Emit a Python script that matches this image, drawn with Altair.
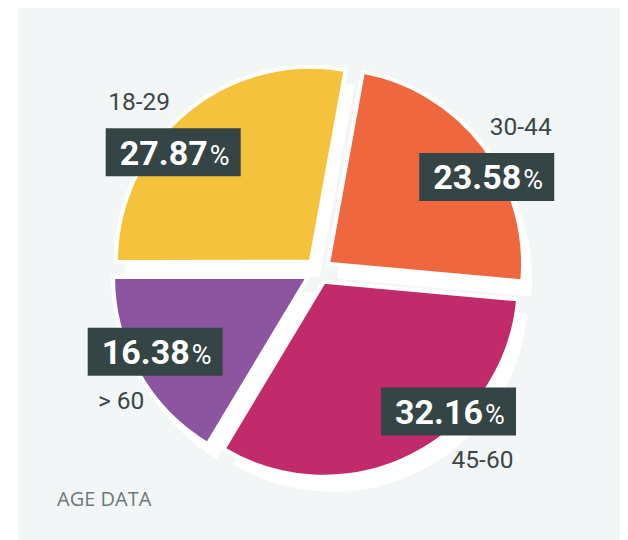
import altair as alt
import pandas as pd

# ---- data ----
CATEGORIES = ["30-44", "45-60", "> 60", "18-29"]
SHARES = [23.58, 32.16, 16.38, 27.87]
COLORS = ["#ee673e", "#c12b6b", "#8b559f", "#f4c33b"]

# ---- layout (style, not data) ----
LABEL_DX = [17, 44, 2, -23.5]
LABEL_DY = [21, -29, -13, 27]
W, H = 602, 532
CX, CY = 300.5, 263.0
R = 195
EXPLODE = 12
LABEL_R = 190
START_DEG = 10.3
SHADOW_DX, SHADOW_DY = 9, 15
FONT = "Roboto"

df = pd.DataFrame({
    "cat": CATEGORIES,
    "share": SHARES,
    "color": COLORS,
    "idx": list(range(len(CATEGORIES))),
    "ldx": LABEL_DX,
    "ldy": LABEL_DY,
})

base = (
    alt.Chart(df)
    .transform_window(cum="sum(share)", sort=[alt.SortField("idx")], frame=[None, 0])
    .transform_joinaggregate(total="sum(share)")
    .transform_calculate(
        t0=f"{START_DEG}*PI/180 + (datum.cum - datum.share)/datum.total*2*PI",
        t1=f"{START_DEG}*PI/180 + datum.cum/datum.total*2*PI",
    )
    .transform_calculate(mid="(datum.t0 + datum.t1)/2")
    .transform_calculate(
        px=f"{CX} + {EXPLODE}*sin(datum.mid)",
        py=f"{CY} - {EXPLODE}*cos(datum.mid)",
        bx=f"{CX} + {LABEL_R}*sin(datum.mid) + datum.ldx",
        by=f"{CY} - {LABEL_R}*cos(datum.mid) + datum.ldy",
    )
    .transform_calculate(
        sx=f"datum.px + {SHADOW_DX}",
        sy=f"datum.py + {SHADOW_DY}",
        bx0="datum.bx - 67.5",
        bx1="datum.bx + 67.5",
        by0="datum.by - 24",
        by1="datum.by + 24",
        nx="datum.bx + 34.5",
        px2="datum.bx + 36.5",
        ny="datum.by + 12.5",
        lx="datum.bx + (sin(datum.mid) < 0 ? -34 : 34)",
        ly="datum.by + (cos(datum.mid) > 0 ? -42 : 57)",
    )
)

shadow = base.mark_arc(radius=R, fill="white").encode(
    x=alt.X("sx:Q", scale=None),
    y=alt.Y("sy:Q", scale=None),
    theta=alt.Theta("t0:Q", scale=None),
    theta2="t1:Q",
)

slices = base.mark_arc(radius=R, stroke="white", strokeWidth=4).encode(
    x=alt.X("px:Q", scale=None),
    y=alt.Y("py:Q", scale=None),
    theta=alt.Theta("t0:Q", scale=None),
    theta2="t1:Q",
    fill=alt.Fill("color:N", scale=None),
)

boxes = base.mark_rect(color="#354445").encode(
    x=alt.X("bx0:Q", scale=None),
    x2="bx1:Q",
    y=alt.Y("by0:Q", scale=None),
    y2="by1:Q",
)

numbers = base.mark_text(
    font=FONT, fontSize=34, fontWeight="bold", color="white", align="right", baseline="alphabetic"
).encode(
    x=alt.X("nx:Q", scale=None),
    y=alt.Y("ny:Q", scale=None),
    text=alt.Text("share:Q", format=".2f"),
)

pct = base.mark_text(
    font=FONT, fontSize=27, fontWeight="normal", color="white", align="left", baseline="alphabetic", text="%"
).encode(
    x=alt.X("px2:Q", scale=None),
    y=alt.Y("ny:Q", scale=None),
)

cats = base.mark_text(
    font=FONT, fontSize=24.5, color="#3c4747", align="center", baseline="alphabetic"
).encode(
    x=alt.X("lx:Q", scale=None),
    y=alt.Y("ly:Q", scale=None),
    text="cat:N",
)

caption = alt.Chart(pd.DataFrame({"t": ["AGE DATA"]})).mark_text(
    font="Open Sans", fontSize=20, color="#6f7878", align="left", baseline="alphabetic"
).encode(
    x=alt.value(39),
    y=alt.value(498),
    text="t:N",
)

chart = (
    alt.layer(shadow, slices, boxes, numbers, pct, cats, caption)
    .properties(
        width=W,
        height=H,
        autosize=alt.AutoSizeParams(type="none"),
        padding={"left": 10, "top": 0, "right": 0, "bottom": 0},
        background="white",
    )
    .configure_view(stroke=None, fill="#f3f6f7")
)

chart.save("out.html", embed_options={"renderer": "svg", "actions": False})
